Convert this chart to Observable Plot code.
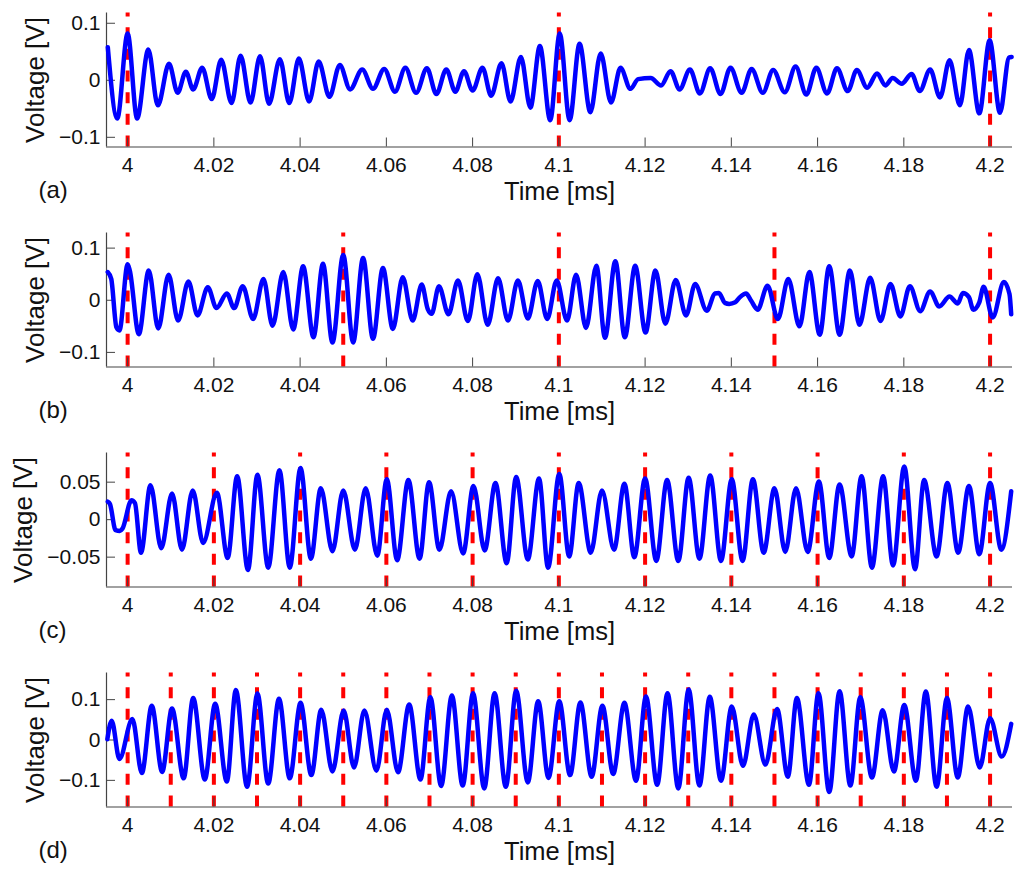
<!DOCTYPE html>
<html>
<head>
<meta charset="utf-8">
<script src="https://cdn.jsdelivr.net/npm/d3@7"></script>
<script src="https://cdn.jsdelivr.net/npm/@observablehq/plot@0.6"></script>
<style>
  body { margin: 0; background: #fff; overflow: hidden; }
  .panel { height: 220px; }
  svg { display: block; }
</style>
</head>
<body>
<div id="charts"></div>
<script>
// [time ms, voltage V]: turning points of each trace
const traceA = [[3.9954,.058],[3.9976,-.067],[4,.082],[4.0022,-.067],[4.0048,.054],[4.007,-.044],[4.0096,.029],[4.0116,-.022],[4.0135,.015],[4.0152,-.016],[4.0173,.022],[4.0195,-.033],[4.0217,.036],[4.0241,-.04],[4.0262,.043],[4.0285,-.039],[4.0307,.042],[4.0328,-.041],[4.0353,.037],[4.0375,-.04],[4.0397,.038],[4.0421,-.037],[4.0443,.033],[4.0468,-.029],[4.0492,.027],[4.0516,-.016],[4.0544,.019],[4.0569,-.015],[4.0595,.02],[4.062,-.02],[4.0644,.022],[4.0669,-.022],[4.0694,.021],[4.0716,-.024],[4.0739,.019],[4.076,-.02],[4.078,.016],[4.08,-.018],[4.0823,.022],[4.0843,-.027],[4.0867,.03],[4.0888,-.037],[4.0912,.041],[4.0934,-.048],[4.0956,.06],[4.098,-.07],[4.1002,.082],[4.1025,-.07],[4.1048,.064],[4.1073,-.056],[4.1097,.047],[4.1121,-.039],[4.1143,.022],[4.1166,-.015],[4.1184,.002],[4.1213,.004],[4.1237,-.009],[4.1259,.016],[4.128,-.016],[4.1304,.019],[4.1327,-.023],[4.1351,.021],[4.1375,-.024],[4.1398,.022],[4.1424,-.022],[4.1447,.02],[4.1473,-.022],[4.1497,.018],[4.1524,-.021],[4.1549,.024],[4.1574,-.025],[4.1597,.022],[4.1622,-.023],[4.1645,.021],[4.167,-.019],[4.1691,.018],[4.1715,-.013],[4.1738,.012],[4.1757,-.009],[4.1774,.004],[4.1795,-.006],[4.1818,.011],[4.1837,-.019],[4.1861,.019],[4.1884,-.03],[4.1906,.035],[4.193,-.044],[4.1951,.053],[4.1975,-.058],[4.1999,.07],[4.2023,-.057],[4.2044,.04],[4.205,.041]];
const traceB = [[3.9954,.054],[3.9962,.041],[3.9974,-.052],[3.9981,-.058],[4,.069],[4.0005,.057],[4.0026,-.065],[4.0049,.057],[4.0071,-.054],[4.0095,.049],[4.0117,-.039],[4.0141,.036],[4.0162,-.029],[4.0186,.025],[4.0206,-.015],[4.023,.013],[4.0247,-.015],[4.0267,.027],[4.0291,-.036],[4.0315,.041],[4.0336,-.049],[4.0361,.054],[4.0384,-.056],[4.0407,.065],[4.0431,-.071],[4.0453,.07],[4.0475,-.081],[4.05,.087],[4.0523,-.081],[4.0546,.081],[4.0569,-.074],[4.0592,.062],[4.0615,-.055],[4.0638,.044],[4.0661,-.039],[4.0682,.03],[4.0696,-.017],[4.0705,-.026],[4.0722,.027],[4.0744,-.027],[4.0766,.038],[4.0789,-.04],[4.0811,.05],[4.0835,-.047],[4.0859,.042],[4.0882,-.039],[4.0905,.038],[4.0928,-.035],[4.0951,.037],[4.0973,-.036],[4.0995,.038],[4.1019,-.039],[4.104,.049],[4.1063,-.053],[4.1087,.066],[4.1107,-.072],[4.1131,.075],[4.1153,-.071],[4.1177,.066],[4.1201,-.062],[4.1224,.057],[4.1247,-.045],[4.1271,.039],[4.1295,-.029],[4.1316,.031],[4.1343,-.02],[4.1362,.013],[4.1371,.014],[4.1385,-.005],[4.1395,-.007],[4.1409,-.004],[4.142,.006],[4.1434,.013],[4.1446,-.001],[4.1461,-.018],[4.1484,.028],[4.1508,-.036],[4.1532,.041],[4.1558,-.05],[4.1581,.054],[4.1605,-.066],[4.1627,.065],[4.1651,-.066],[4.1675,.057],[4.1697,-.047],[4.1722,.043],[4.1746,-.04],[4.1769,.031],[4.1792,-.031],[4.1814,.027],[4.1838,-.021],[4.1861,.017],[4.1882,-.012],[4.1906,.007],[4.1925,-.006],[4.1937,.014],[4.1951,.006],[4.1961,-.018],[4.1975,-.004],[4.1985,.026],[4.2006,-.033],[4.2032,.035],[4.2045,.012],[4.2049,-.027]];
const traceC = [[3.9954,.024],[3.9959,.021],[3.9972,-.014],[3.9982,-.015],[3.9988,-.012],[4.0009,.026],[4.0017,.022],[4.0031,-.044],[4.0053,.046],[4.0078,-.038],[4.0103,.035],[4.0126,-.04],[4.0151,.039],[4.0175,-.031],[4.0207,.036],[4.0232,-.051],[4.0254,.058],[4.0279,-.067],[4.0301,.06],[4.0326,-.064],[4.0352,.066],[4.0376,-.064],[4.0401,.069],[4.0425,-.052],[4.0448,.042],[4.0475,-.042],[4.05,.039],[4.0527,-.04],[4.0552,.042],[4.0579,-.048],[4.0601,.054],[4.0625,-.054],[4.0651,.053],[4.0677,-.052],[4.0699,.05],[4.0723,-.04],[4.075,.038],[4.0778,-.045],[4.0802,.045],[4.0828,-.041],[4.0853,.049],[4.0879,-.058],[4.0901,.057],[4.0928,-.053],[4.0954,.055],[4.0975,-.064],[4.1001,.061],[4.1024,-.049],[4.1046,.049],[4.1074,-.044],[4.11,.039],[4.1128,-.04],[4.1152,.048],[4.1175,-.05],[4.12,.055],[4.1226,-.055],[4.1251,.053],[4.1277,-.055],[4.1301,.056],[4.1326,-.052],[4.1351,.059],[4.1376,-.055],[4.1401,.054],[4.1426,-.055],[4.145,.054],[4.1475,-.044],[4.15,.042],[4.1525,-.043],[4.155,.042],[4.1577,-.043],[4.1603,.051],[4.1627,-.051],[4.1651,.047],[4.1679,-.049],[4.1702,.058],[4.1726,-.064],[4.1752,.058],[4.1775,-.061],[4.1801,.071],[4.1826,-.066],[4.1847,.053],[4.1876,-.049],[4.1901,.049],[4.1926,-.044],[4.1951,.045],[4.1975,-.046],[4.2,.049],[4.2026,-.04],[4.2049,.038]];
const traceD = [[3.9953,.002],[3.9963,.048],[3.9981,-.047],[4.0011,.052],[4.0033,-.082],[4.0056,.085],[4.008,-.079],[4.0103,.078],[4.013,-.095],[4.0152,.104],[4.0179,-.098],[4.0203,.09],[4.023,-.103],[4.0251,.124],[4.0277,-.116],[4.0301,.115],[4.0326,-.108],[4.0351,.102],[4.0376,-.095],[4.0401,.092],[4.0426,-.087],[4.0449,.075],[4.0475,-.078],[4.0501,.073],[4.0525,-.068],[4.0549,.073],[4.0577,-.076],[4.0601,.075],[4.0627,-.08],[4.0653,.088],[4.0679,-.098],[4.0702,.106],[4.0727,-.114],[4.0752,.11],[4.0777,-.113],[4.0801,.116],[4.0827,-.12],[4.0851,.116],[4.0877,-.116],[4.0901,.122],[4.0928,-.105],[4.0952,.096],[4.0976,-.094],[4.1001,.096],[4.1026,-.087],[4.105,.093],[4.1076,-.091],[4.1101,.085],[4.1126,-.084],[4.1152,.092],[4.1179,-.101],[4.1202,.108],[4.1228,-.111],[4.1252,.116],[4.1277,-.12],[4.1301,.125],[4.1326,-.113],[4.135,.107],[4.1376,-.101],[4.1401,.083],[4.1427,-.064],[4.1452,.063],[4.1479,-.061],[4.1506,.077],[4.1531,-.091],[4.1552,.104],[4.158,-.111],[4.1602,.116],[4.1627,-.129],[4.1651,.121],[4.1676,-.113],[4.1699,.106],[4.1726,-.093],[4.1751,.074],[4.1777,-.078],[4.1801,.087],[4.1828,-.101],[4.1851,.12],[4.1876,-.116],[4.19,.104],[4.1925,-.093],[4.1949,.083],[4.1976,-.068],[4.2,.054],[4.2027,-.041],[4.2049,.04]];

// dashed red markers
const eventsA = [4, 4.1, 4.2];
const eventsB = [4, 4.05, 4.1, 4.15, 4.2];
const eventsC = [4, 4.02, 4.04, 4.06, 4.08, 4.1, 4.12, 4.14, 4.16, 4.18, 4.2];
const eventsD = [4, 4.01, 4.02, 4.03, 4.04, 4.05, 4.06, 4.07, 4.08, 4.09, 4.1, 4.11, 4.12, 4.13, 4.14, 4.15, 4.16, 4.17, 4.18, 4.19, 4.2];

const xTicks = [4, 4.02, 4.04, 4.06, 4.08, 4.1, 4.12, 4.14, 4.16, 4.18, 4.2];
const xDomain = [3.9951, 4.2052];

const panels = [
  {name: "(a)", trace: traceA, events: eventsA, domain: [-.117, .118], ticks: [-.1, 0, .1], yLabelX: -71},
  {name: "(b)", trace: traceB, events: eventsB, domain: [-.128, .129], ticks: [-.1, 0, .1], yLabelX: -71},
  {name: "(c)", trace: traceC, events: eventsC, domain: [-.0898, .0889], ticks: [-.05, 0, .05], yLabelX: -83},
  {name: "(d)", trace: traceD, events: eventsD, domain: [-.166, .166], ticks: [-.1, 0, .1], yLabelX: -71}
];

const fmt = d => (d < 0 ? "\u2212" + (-d) : "" + d);
const font = "'Liberation Sans', Arial, sans-serif";

panels.forEach(p => {
  let chart = Plot.plot({
    width: 1024,
    height: 205,
    marginTop: 12.5,
    marginBottom: 58.5,
    marginLeft: 106,
    marginRight: 12,
    style: {fontFamily: font, color: "#111", background: "#fff"},
    x: {domain: xDomain, axis: null},
    y: {domain: p.domain, axis: null},
    marks: [
      Plot.ruleX(p.events, {x: d => d, y1: p.domain[0], y2: p.domain[1], stroke: "#f00", strokeWidth: 4, strokeDasharray: "11,10.67"}),
      // ticks sit inside the frame, matlab style
      Plot.ruleX(xTicks, {x: d => d, insetTop: 125, stroke: "#444", strokeWidth: 1}),
      Plot.ruleY(p.ticks, {y: d => d, insetRight: 897, stroke: "#444", strokeWidth: 1}),
      Plot.ruleX([xDomain[0]], {stroke: "#444", strokeWidth: 1.2}),
      Plot.ruleY([p.domain[0]], {stroke: "#444", strokeWidth: 1.2}),
      Plot.axisX(xTicks, {tickSize: 0, tickPadding: 10, fontSize: 21, tickFormat: fmt, label: null}),
      Plot.axisY(p.ticks, {tickSize: 0, tickPadding: 6, fontSize: 21, tickFormat: fmt, label: null}),
      Plot.line(p.trace, {x: d => d[0], y: d => d[1], curve: "monotone-x", stroke: "#00f", strokeWidth: 4.5, strokeLinejoin: "round", strokeLinecap: "round"}),
      Plot.text(["Time [ms]"], {frameAnchor: "bottom", dy: 45, fontSize: 25.5, lineAnchor: "middle"}),
      Plot.text(["Voltage [V]"], {frameAnchor: "left", dx: p.yLabelX, rotate: -90, fontSize: 26, textAnchor: "middle"}),
      Plot.text([p.name], {frameAnchor: "bottom-left", dx: -68, dy: 43, fontSize: 24, textAnchor: "start", lineAnchor: "middle"})
    ]
  });
  let div = document.createElement("div");
  div.className = "panel";
  div.appendChild(chart);
  document.getElementById("charts").appendChild(div);
});
</script>
</body>
</html>
